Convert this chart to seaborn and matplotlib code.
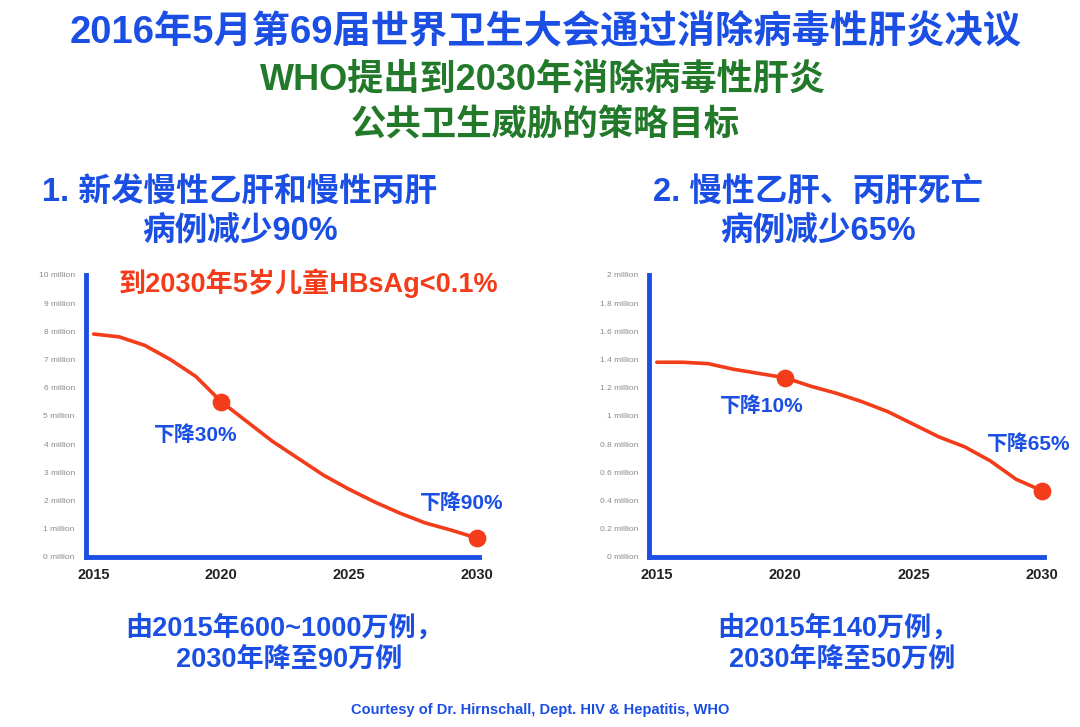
import seaborn as sns
import matplotlib.pyplot as plt
import pandas as pd

# data (millions of cases)
years = list(range(2015, 2031))
new_cases = [7.9, 7.8, 7.5, 7.0, 6.4, 5.5, 4.8, 4.1, 3.5, 2.9, 2.4, 1.95, 1.55, 1.2, 0.95, 0.67]
deaths = [1.38, 1.38, 1.37, 1.33, 1.30, 1.27, 1.21, 1.16, 1.10, 1.03, 0.94, 0.85, 0.78, 0.68, 0.55, 0.47]
marked_years = [2020, 2030]
left_labels = ["下降30%", "下降90%"]
right_labels = ["下降10%", "下降65%"]
left_yticks = list(range(0, 11))
right_yticks = [0, 0.2, 0.4, 0.6, 0.8, 1.0, 1.2, 1.4, 1.6, 1.8, 2.0]
xticks = [2015, 2020, 2025, 2030]

BLUE = "#1b4fe3"
GREEN = "#23792a"
RED = "#f23c1a"

sns.set_theme(style="white")
# Arial-like Latin/digits, CJK falls through to Noto
plt.rcParams['font.family'] = ['Liberation Sans', 'Noto Sans CJK SC', 'DejaVu Sans']

df = pd.DataFrame({"year": years, "new": new_cases, "deaths": deaths})
marks = df[df["year"].isin(marked_years)]

fig = plt.figure(figsize=(10.8, 7.27), dpi=100)
ax1 = fig.add_axes([0.0796, 0.234, 0.364, 0.388])
ax2 = fig.add_axes([0.601, 0.234, 0.366, 0.388])


def fmt_million(v):
    return f"{v:g} million"


for ax, col, ymax, yt in [(ax1, "new", 10, left_yticks), (ax2, "deaths", 2, right_yticks)]:
    sns.lineplot(data=df, x="year", y=col, ax=ax, color=RED, linewidth=2.6)
    sns.scatterplot(data=marks, x="year", y=col, ax=ax, color=RED, s=140,
                    edgecolor=RED, zorder=5)
    ax.set_xlim(2014.7, 2030.1)
    ax.set_ylim(0, ymax)
    ax.set_xticks(xticks)
    ax.set_xticklabels([str(x) for x in xticks], fontsize=10.5, fontweight='bold',
                       color="#222222")
    ax.set_yticks(yt)
    ax.set_yticklabels([fmt_million(v) for v in yt], fontsize=6, color="#8a8a8a")
    ax.tick_params(axis='both', length=0, pad=8)
    ax.set_xlabel("")
    ax.set_ylabel("")
    for s in ["top", "right"]:
        ax.spines[s].set_visible(False)
    for s in ["left", "bottom"]:
        ax.spines[s].set_color(BLUE)
        ax.spines[s].set_linewidth(3.5)
    for c in ax.collections:
        c.set_clip_on(False)

# point labels
for (yr, lab), dx, dy in zip(zip(marked_years, left_labels), [-1.0, -0.6], [-1.2, 1.25]):
    v = df.loc[df["year"] == yr, "new"].iloc[0]
    ax1.text(yr + dx, v + dy, lab, color=BLUE, fontsize=15, fontweight='bold',
             ha='center', va='center')
for (yr, lab), dx, dy in zip(zip(marked_years, right_labels), [-0.9, -0.5], [-0.2, 0.33]):
    v = df.loc[df["year"] == yr, "deaths"].iloc[0]
    ax2.text(yr + dx, v + dy, lab, color=BLUE, fontsize=15, fontweight='bold',
             ha='center', va='center', clip_on=False)

# titles
fig.text(0.505, 0.955, "2016年5月第69届世界卫生大会通过消除病毒性肝炎决议", color=BLUE,
         fontsize=27.5, fontweight='bold', ha='center', va='center')
fig.text(0.503, 0.89, "WHO提出到2030年消除病毒性肝炎", color=GREEN,
         fontsize=26, fontweight='bold', ha='center', va='center')
fig.text(0.505, 0.828, "公共卫生威胁的策略目标", color=GREEN,
         fontsize=25.5, fontweight='bold', ha='center', va='center')

fig.text(0.222, 0.735, "1. 新发慢性乙肝和慢性丙肝", color=BLUE,
         fontsize=23.5, fontweight='bold', ha='center', va='center')
fig.text(0.222, 0.68, "病例减少90%", color=BLUE,
         fontsize=23.5, fontweight='bold', ha='center', va='center')
fig.text(0.757, 0.735, "2. 慢性乙肝、丙肝死亡", color=BLUE,
         fontsize=23.5, fontweight='bold', ha='center', va='center')
fig.text(0.757, 0.68, "病例减少65%", color=BLUE,
         fontsize=23.5, fontweight='bold', ha='center', va='center')

fig.text(0.286, 0.611, "到2030年5岁儿童HBsAg<0.1%", color=RED,
         fontsize=19.5, fontweight='bold', ha='center', va='center')

fig.text(0.263, 0.136, "由2015年600~1000万例，", color=BLUE,
         fontsize=19.5, fontweight='bold', ha='center', va='center')
fig.text(0.268, 0.092, "2030年降至90万例", color=BLUE,
         fontsize=19.5, fontweight='bold', ha='center', va='center')
fig.text(0.776, 0.136, "由2015年140万例，", color=BLUE,
         fontsize=19.5, fontweight='bold', ha='center', va='center')
fig.text(0.78, 0.092, "2030年降至50万例", color=BLUE,
         fontsize=19.5, fontweight='bold', ha='center', va='center')

fig.text(0.5, 0.023, "Courtesy of Dr. Hirnschall, Dept. HIV & Hepatitis, WHO", color=BLUE,
         fontsize=10.5, fontweight='bold', ha='center', va='center')

fig.savefig("out.png", dpi=100)
